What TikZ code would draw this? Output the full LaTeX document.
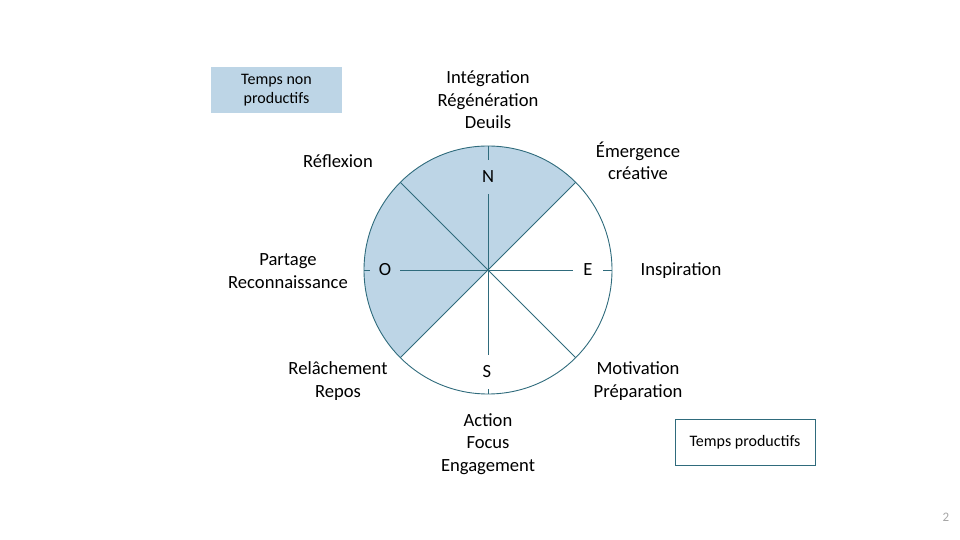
\documentclass[tikz,border=0pt]{standalone}
\usepackage{fontspec}
\setmainfont{Carlito}
\usepackage{xcolor}
\usepackage{tikz}
\usetikzlibrary{positioning}

\definecolor{lineteal}{HTML}{2F6B7C}
\definecolor{zonefill}{HTML}{BDD5E6}

\begin{document}
\begin{tikzpicture}[
    x=1pt, y=1pt,
    axis/.style={draw=lineteal, line width=0.9pt},
    phase/.style={align=center, font=\fontsize{18.6}{22.5}\selectfont, inner sep=0pt},
    pole/.style={fill=#1, font=\fontsize{18.6}{22}\selectfont, minimum width=30pt, minimum height=34pt, inner sep=0pt},
    legend/.style={align=center, font=\fontsize{16}{19}\selectfont, inner sep=0pt}
]
\useasboundingbox (0,0) rectangle (960,540);

\coordinate (c) at (488,270);

% Non productive half
\fill[zonefill] (c) -- ++(45:124) arc (45:225:124) -- cycle;

% Wheel
\draw[axis] (c) circle (124);
\draw[axis] (c) ++(-124,0) -- ++(248,0);
\draw[axis] (c) ++(0,-124) -- ++(0,248);
\draw[axis] (c) ++(45:124) -- ++(225:248);
\draw[axis] (c) ++(135:124) -- ++(315:248);

% Poles
\node[pole=zonefill] (north) at (488,363) {N};
\node[pole=zonefill] (west) at (385,270) {O};
\node[pole=white] (east) at (588,270) {E};
\node[pole=white] (south) at (487,168) {S};

% Phases
\node[phase] (integration) at (488,440) {Intégration\\Régénération\\Deuils};
\node[phase] (emergence) at (638,379) {Émergence\\créative};
\node[phase] (reflexion) at (338,379) {Réflexion};
\node[phase] (partage) at (288,269) {Partage\\Reconnaissance};
\node[phase] (inspiration) at (681,269) {Inspiration};
\node[phase] (relachement) at (338,159) {Relâchement\\Repos};
\node[phase] (motivation) at (638,159) {Motivation\\Préparation};
\node[phase] (action) at (488,96) {Action\\Focus\\Engagement};

% Legend
\node[legend, fill=zonefill, minimum width=131pt, minimum height=46pt] (nonprod) at (276.5,450) {Temps non\\productifs};
\node[legend, draw=lineteal, line width=0.9pt, fill=white, minimum width=140pt, minimum height=46pt] (prod) at (745,98) {Temps productifs};

\node[font=\fontsize{13}{15}\selectfont, text=gray!70] (page) at (946,23) {2};

\end{tikzpicture}
\end{document}
